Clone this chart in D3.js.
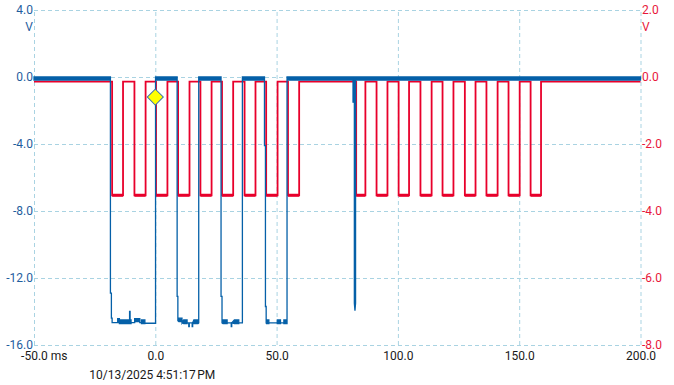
<!DOCTYPE html>
<html><head><meta charset="utf-8">
<script src="https://cdn.jsdelivr.net/npm/d3@7"></script>
<style>
html,body{margin:0;padding:0;background:#fff;}
svg{display:block;font-family:Roboto,"Noto Sans",sans-serif;}
</style></head>
<body><svg id="c" width="674" height="385"></svg>
<script>
// ---- data ----
const xTicks = [-50, 0, 50, 100, 150, 200];
const xTickLabels = ["-50.0 ms", "0.0", "50.0", "100.0", "150.0", "200.0"];
const leftTicks = [4, 0, -4, -8, -12, -16];
const leftTickLabels = ["4.0", "0.0", "-4.0", "-8.0", "-12.0", "-16.0"];
const rightTicks = [2, 0, -2, -4, -6, -8];
const rightTickLabels = ["2.0", "0.0", "-2.0", "-4.0", "-6.0", "-8.0"];
const unitLabel = "V";
const timestamp = "10/13/2025 4:51:17\u202FPM";

// red channel (right axis): low pulse start / end times (ms)
const redLowStart = [-17.8, -8.6, 0.3, 9.4, 18.6, 27.5, 36.8, 45.7, 54.7, 82.8, 91.2, 100.3, 109.3, 118.4, 127.6, 136.5, 145.6, 154.7];
const redLowEnd   = [-13.3, -4.0, 5.0, 14.1, 23.2, 32.1, 41.3, 50.4, 59.3, 86.6, 95.7, 104.6, 113.9, 122.9, 132.0, 141.1, 150.2, 159.0];
const redHigh = -0.14;
const redLow = -3.53;

// blue channel (left axis): [time ms, min V, max V]
const blueTrace = [
  [-50, -0.18, 0.0],
  [-18.5, -0.18, 0.0],
  [-18.5, -12.9, -12.9],
  [-18.1, -12.9, -12.9],
  [-18.1, -14.4, -14.4],
  [-17.8, -14.4, -14.4],
  [-17.8, -14.67, -14.67],
  [-15.5, -14.67, -14.67],
  [-15.5, -14.67, -14.42],
  [-14.8, -14.67, -14.42],
  [-14.8, -14.72, -14.5],
  [-10.6, -14.72, -14.5],
  [-10.6, -14.72, -14.0],
  [-10.4, -14.72, -14.0],
  [-10.4, -14.72, -14.5],
  [-10.0, -14.72, -14.5],
  [-10.0, -14.67, -14.67],
  [-8.5, -14.67, -14.67],
  [-8.5, -14.6, -14.42],
  [-6.4, -14.6, -14.42],
  [-6.4, -14.67, -14.67],
  [-5.7, -14.67, -14.67],
  [-5.7, -14.72, -14.5],
  [-4.3, -14.72, -14.5],
  [-4.3, -14.7, -14.7],
  [0.1, -14.7, -14.7],
  [0.1, -0.18, 0.0],
  [9.0, -0.18, 0.0],
  [9.0, -13.1, -13.1],
  [9.3, -13.1, -13.1],
  [9.3, -14.55, -14.55],
  [9.7, -14.6, -14.4],
  [11.0, -14.6, -14.4],
  [11.0, -14.68, -14.68],
  [11.7, -14.72, -14.5],
  [13.1, -14.72, -14.5],
  [13.1, -14.68, -14.68],
  [13.8, -14.68, -14.68],
  [13.8, -14.9, -14.68],
  [14.0, -14.9, -14.68],
  [14.0, -14.68, -14.68],
  [15.2, -14.68, -14.68],
  [15.2, -14.9, -14.68],
  [15.4, -14.9, -14.68],
  [15.4, -14.68, -14.68],
  [15.9, -14.72, -14.5],
  [17.6, -14.72, -14.5],
  [17.9, -14.68, -14.68],
  [17.9, -0.18, 0.0],
  [27.1, -0.18, 0.0],
  [27.1, -13.1, -13.1],
  [27.5, -13.1, -13.1],
  [27.5, -14.68, -14.68],
  [27.9, -14.72, -14.5],
  [29.6, -14.72, -14.5],
  [29.6, -14.68, -14.68],
  [31.3, -14.68, -14.68],
  [31.3, -14.9, -14.68],
  [31.5, -14.9, -14.68],
  [31.5, -14.68, -14.68],
  [32.6, -14.72, -14.5],
  [34.4, -14.72, -14.5],
  [34.4, -14.68, -14.68],
  [35.9, -14.68, -14.68],
  [35.9, -0.18, 0.0],
  [45.0, -0.18, 0.0],
  [45.0, -4.1, -4.1],
  [45.4, -4.1, -4.1],
  [45.4, -13.7, -13.7],
  [45.7, -13.7, -13.7],
  [45.7, -14.68, -14.68],
  [45.8, -14.72, -14.5],
  [46.8, -14.72, -14.5],
  [46.8, -14.68, -14.68],
  [50.3, -14.68, -14.68],
  [50.3, -14.72, -14.5],
  [51.6, -14.72, -14.5],
  [51.6, -14.68, -14.68],
  [53.0, -14.68, -14.68],
  [53.0, -14.72, -14.5],
  [54.3, -14.72, -14.5],
  [54.3, -0.18, 0.0],
  [81.5, -0.18, 0.0],
  [81.5, -1.5, 0.0],
  [82.05, -1.5, 0.0],
  [82.05, -13.5, -13.5],
  [82.3, -13.95, -13.95],
  [82.55, -13.5, -13.5],
  [82.55, -0.18, 0.0],
  [200, -0.18, 0.0]
];

// trigger marker
const triggerT = 0;
const triggerV = -1.2;

// ---- layout ----
const svg = d3.select("#c");
const L = 34, R = 640.5, T = 10, B = 345;
const x = d3.scaleLinear().domain([-50, 200]).range([L, R]);
const yL = d3.scaleLinear().domain([-16, 4]).range([B, T]);
const yR = d3.scaleLinear().domain([-8, 2]).range([B, T]);

const gridColor = "#a9d3e2";
const blue = "#0560a8";
const red = "#e8002b";
const blueLbl = "#1f5e9e";
const redLbl = "#e8173a";

// horizontal grid + left labels
const gl = svg.append("g").attr("transform", `translate(${L},0)`)
  .call(d3.axisLeft(yL).tickValues(leftTicks).tickSize(-(R - L)).tickPadding(1)
    .tickFormat((d, i) => leftTickLabels[i]));
gl.select(".domain").remove();
gl.selectAll("line").attr("stroke", gridColor).attr("stroke-dasharray", "4,3");
gl.selectAll("text").attr("fill", blueLbl).attr("font-size", 12).attr("font-family", "Roboto");

// right labels
const gr = svg.append("g").attr("transform", `translate(${R},0)`)
  .call(d3.axisRight(yR).tickValues(rightTicks).tickSize(0).tickPadding(1.5)
    .tickFormat((d, i) => rightTickLabels[i]));
gr.select(".domain").remove();
gr.selectAll("text").attr("fill", redLbl).attr("font-size", 12).attr("font-family", "Roboto");

// vertical grid + bottom labels
const gb = svg.append("g").attr("transform", `translate(0,${B})`)
  .call(d3.axisBottom(x).tickValues(xTicks).tickSize(-(B - T)).tickPadding(6)
    .tickFormat((d, i) => xTickLabels[i]));
gb.select(".domain").remove();
gb.selectAll("line").attr("stroke", gridColor).attr("stroke-dasharray", "4,3");
gb.selectAll("text").attr("fill", "#1a1a1a").attr("font-size", 12).attr("font-family", "Roboto");
gb.selectAll("text").filter((d, i) => i === 0).attr("text-anchor", "start").attr("x", -13.4);

// unit labels
svg.append("text").attr("x", L - 1).attr("y", 27.5).attr("dy", "0.32em").attr("text-anchor", "end")
  .attr("fill", blueLbl).attr("font-size", 12).text(unitLabel);
svg.append("text").attr("x", R + 1.5).attr("y", 27.5).attr("dy", "0.32em").attr("text-anchor", "start")
  .attr("fill", redLbl).attr("font-size", 12).text(unitLabel);

// timestamp
svg.append("text").attr("x", 89.3).attr("y", 378.5).attr("fill", "#1a1a1a").attr("font-size", 12).text(timestamp);

// ---- red trace ----
const redPts = [[-50, redHigh]];
redLowStart.forEach((s, i) => {
  redPts.push([s, redHigh], [s, redLow], [redLowEnd[i], redLow], [redLowEnd[i], redHigh]);
});
redPts.push([200, redHigh]);
const redLine = d3.line().x(d => x(d[0])).y(d => yR(d[1]));
svg.append("path").attr("d", redLine(redPts)).attr("fill", "none").attr("stroke", red).attr("stroke-width", 1.8);
svg.append("g").selectAll("line").data(redLowStart).join("line")
  .attr("x1", d => x(d)).attr("x2", (d, i) => x(redLowEnd[i]))
  .attr("y1", yR(redLow)).attr("y2", yR(redLow))
  .attr("stroke", red).attr("stroke-width", 3);

// ---- blue trace ----
const blueArea = d3.area().x(d => x(d[0])).y0(d => yL(d[1])).y1(d => yL(d[2]));
svg.append("path").attr("d", blueArea(blueTrace)).attr("fill", blue).attr("stroke", blue)
  .attr("stroke-width", 1.3).attr("stroke-linejoin", "miter");

// ---- trigger marker ----
svg.append("path")
  .attr("d", d3.symbol(d3.symbolSquare, 128)())
  .attr("transform", `translate(${x(triggerT)},${yL(triggerV)}) rotate(45)`)
  .attr("fill", "#ffff00").attr("stroke", "#3a6fb0").attr("stroke-width", 1);
</script></body></html>
